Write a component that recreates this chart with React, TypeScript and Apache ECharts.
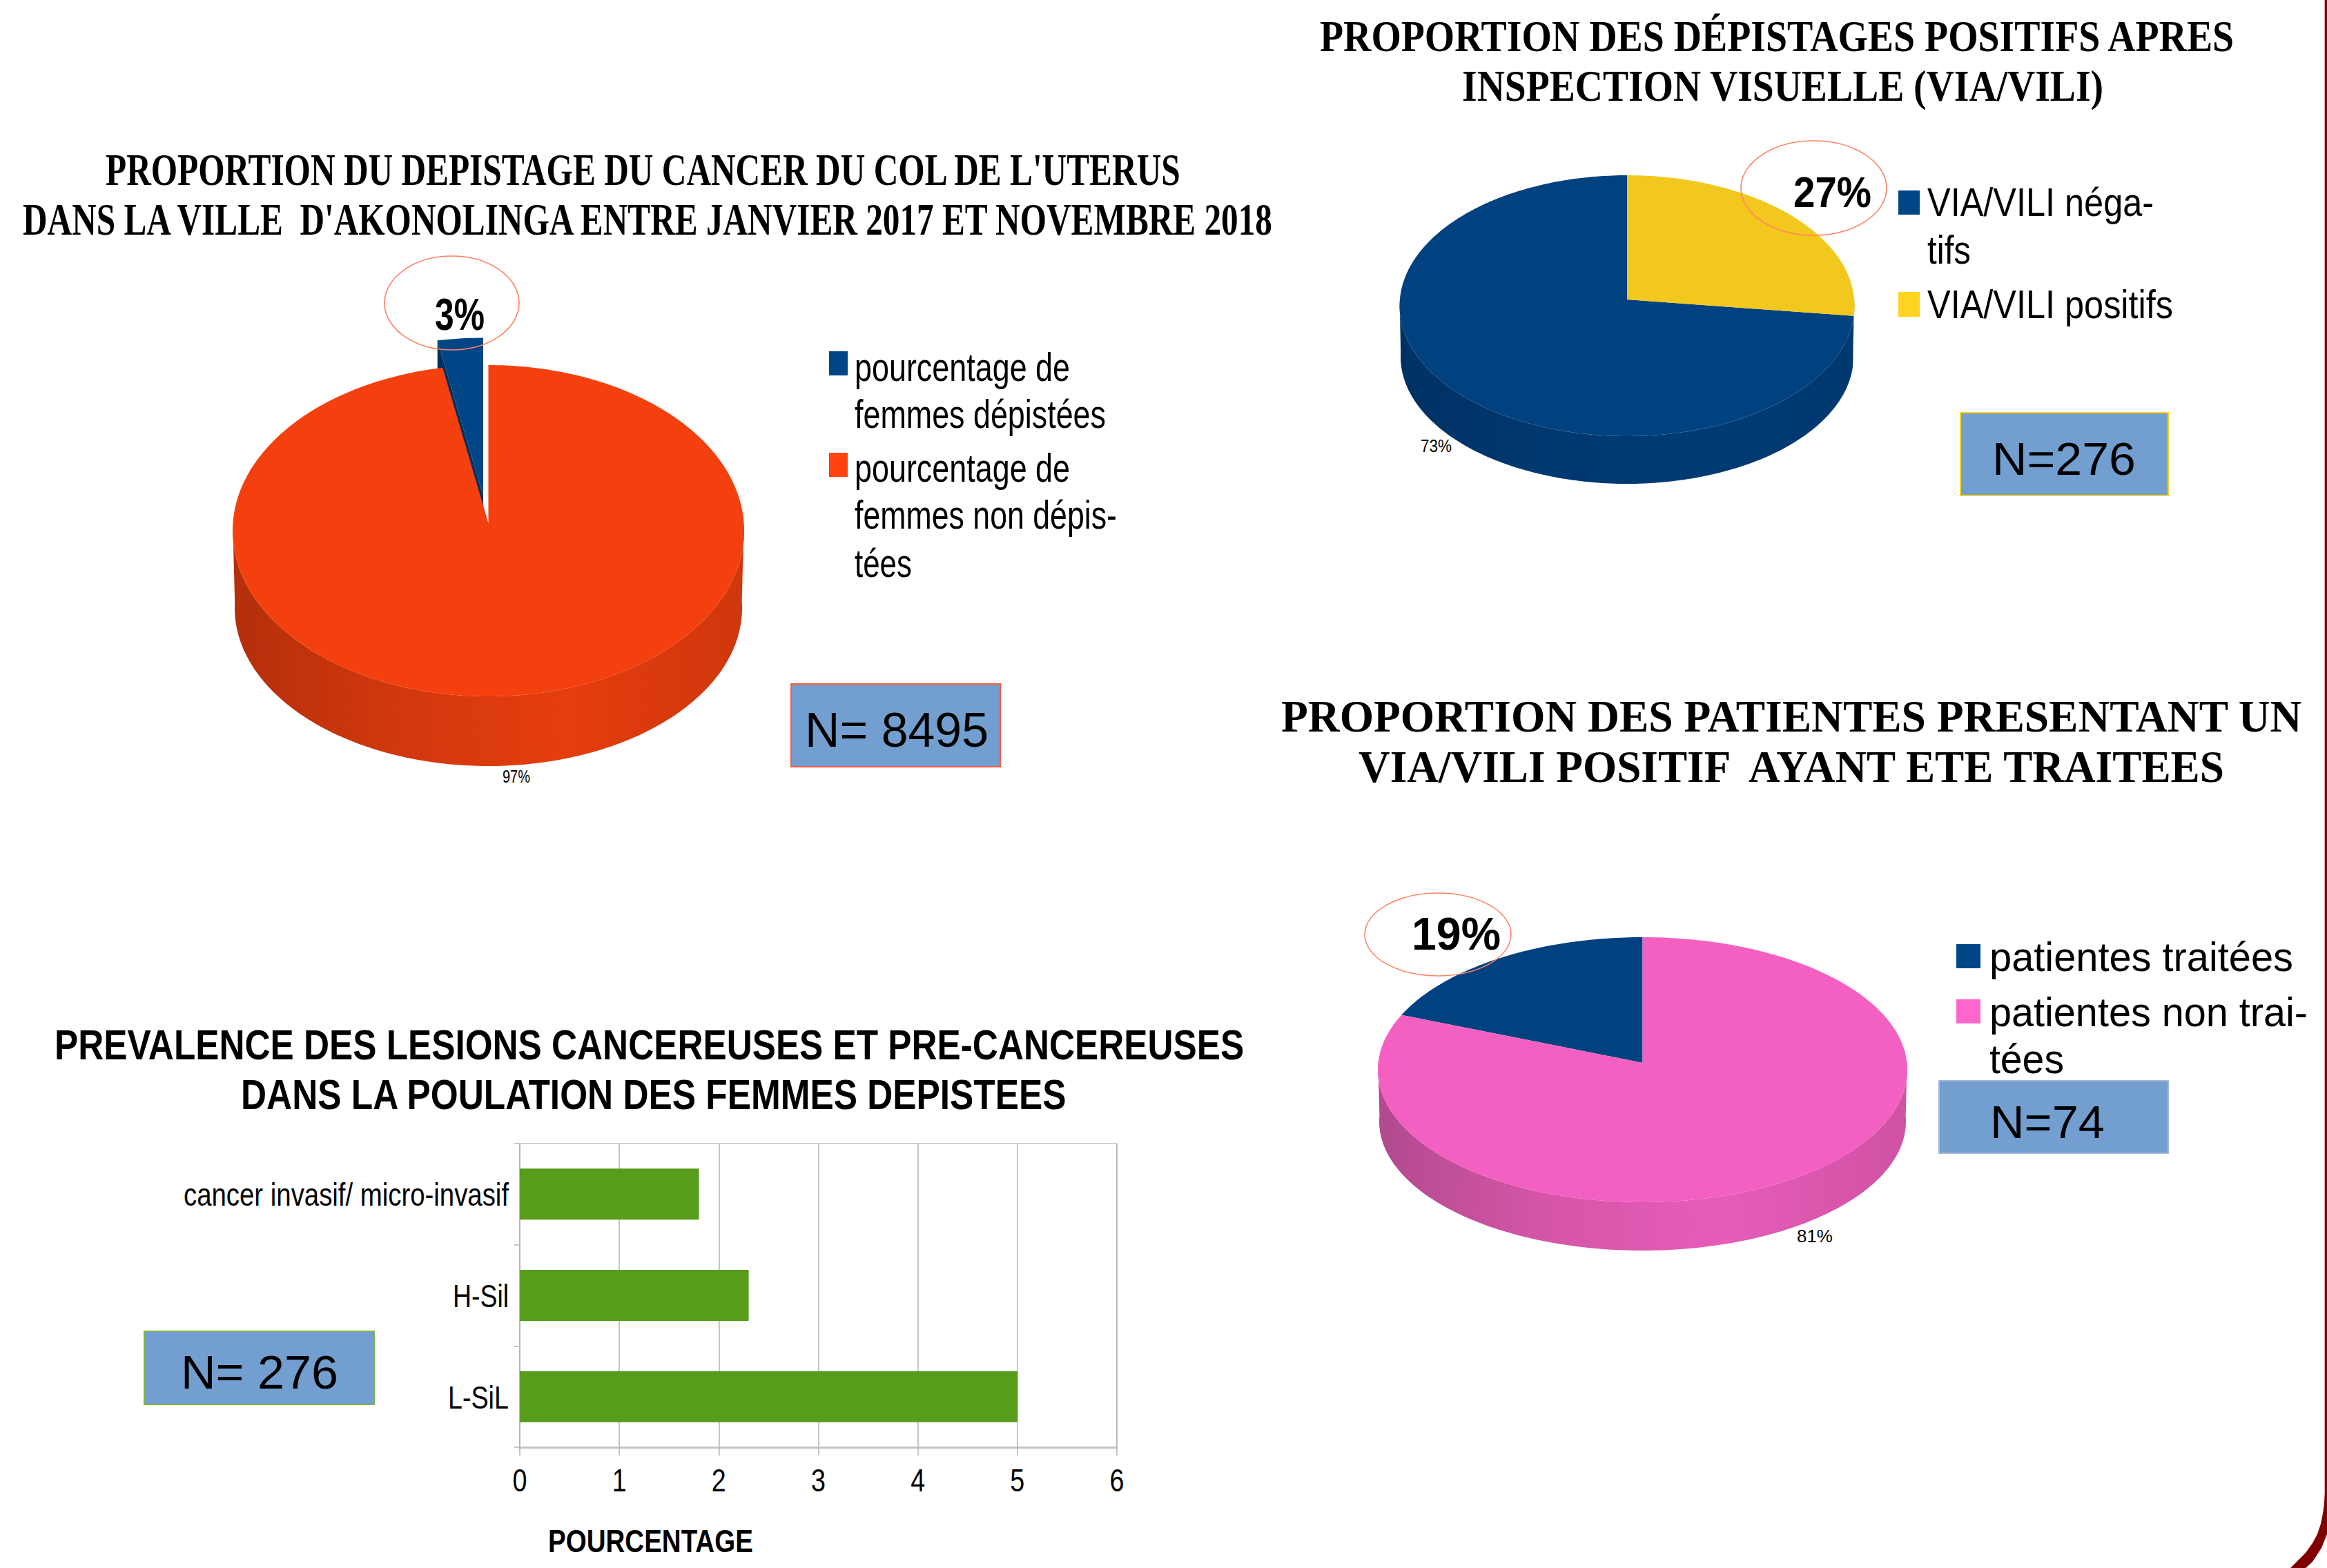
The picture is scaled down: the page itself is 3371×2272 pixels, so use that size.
import React, { useEffect, useRef } from "react";
import * as echarts from "echarts";

const SERIF = "Liberation Serif";
const SANS = "Liberation Sans";

// ---- data ----
const pie1Values = [3, 97];
const pie2Values = [73, 27];
const pie3Values = [19, 81];

const pie1Legend = [["pourcentage de", "femmes dépistées"], ["pourcentage de", "femmes non dépis-", "tées"]];
const pie2Legend = [["VIA/VILI néga-", "tifs"], ["VIA/VILI positifs"]];
const pie3Legend = [["patientes traitées"], ["patientes non trai-", "tées"]];

const barCategories = ["L-SiL", "H-Sil", "cancer invasif/ micro-invasif"];
const barValues = [5, 2.3, 1.8];
const barTicks = [0, 1, 2, 3, 4, 5, 6];

const title1 = ["PROPORTION DU DEPISTAGE DU CANCER DU COL DE L'UTERUS", "DANS LA VILLE  D'AKONOLINGA ENTRE JANVIER 2017 ET NOVEMBRE 2018"];
const title2 = ["PROPORTION DES DÉPISTAGES POSITIFS APRES", "INSPECTION VISUELLE (VIA/VILI)"];
const title3 = ["PROPORTION DES PATIENTES PRESENTANT UN", "VIA/VILI POSITIF  AYANT ETE TRAITEES"];
const title4 = ["PREVALENCE DES LESIONS CANCEREUSES ET PRE-CANCEREUSES", "DANS LA POULATION DES FEMMES DEPISTEES"];
const boxLabels = ["N= 8495", "N=276", "N=74", "N= 276"];
const axisName = "POURCENTAGE";

// ---- helpers ----
const ctx = document.createElement("canvas").getContext("2d") as CanvasRenderingContext2D;

function txt(text: string, x: number, baseline: number, family: string, size: number, weight: string, width?: number, align = "left", factor = 1) {
  ctx.font = `${weight} ${size}px "${family}"`;
  const natural = ctx.measureText(text).width || 1;
  return {
    type: "text",
    x,
    y: baseline - 0.32 * size,
    scaleX: width ? width / natural : factor,
    z: 30,
    style: { text, fontFamily: family, fontSize: size, fontWeight: weight, fill: "#000", align, verticalAlign: "middle" },
  };
}

function box(x0: number, y0: number, x1: number, y1: number, stroke: string) {
  return { type: "rect", z: 20, shape: { x: x0, y: y0, width: x1 - x0, height: y1 - y0 }, style: { fill: "#729FCF", stroke, lineWidth: 2 } };
}

function callout(x0: number, y0: number, x1: number, y1: number) {
  return {
    type: "ellipse",
    z: 25,
    shape: { cx: (x0 + x1) / 2, cy: (y0 + y1) / 2, rx: (x1 - x0) / 2, ry: (y1 - y0) / 2 },
    style: { fill: "rgba(0,0,0,0)", stroke: "#FF8263", lineWidth: 1.6 },
  };
}

function swatch(x0: number, y0: number, x1: number, y1: number, fill: string) {
  return { type: "rect", z: 20, shape: { x: x0, y: y0, width: x1 - x0, height: y1 - y0 }, style: { fill } };
}

const rad = (d: number) => (d * Math.PI) / 180;

type PieGeo = {
  cx: number; cy: number; rx: number; ry: number; apexY: number;
  botCy: number; botRx: number; botRy: number;
  faces: string[];
  walls: [string, string, string, string][];
  cut?: string[];
  explode?: [number, number][];
};

// point of an ellipse seen along the given slice angle from the (perspective-shifted) apex
function onEllipse(a: number, cx: number, cy: number, rx: number, ry: number, apexOffset: number): [number, number] {
  const da = -Math.sin(rad(a));
  const db = -Math.cos(rad(a));
  const e = apexOffset / ry;
  const q = da * da + db * db;
  const t = (-db * e + Math.sqrt(db * db * e * e + q * (1 - e * e))) / q;
  return [cx + rx * t * da, cy + ry * (t * db + e)];
}

function pieSeries(values: number[], geo: PieGeo) {
  const total = values.reduce((a, b) => a + b, 0);
  return {
    type: "custom",
    coordinateSystem: "none",
    silent: true,
    z: 2,
    data: values.map((v) => [v]),
    renderItem(params: any, api: any) {
      const i = params.dataIndex;
      const prev = values.slice(0, i).reduce((a, b) => a + b, 0);
      const val = api.value(0);
      // slices run counter-clockwise from twelve o'clock
      const a0 = (prev / total) * 360;
      const a1 = ((prev + val) / total) * 360;
      const [dx, dy] = geo.explode?.[i] ?? [0, 0];
      const off = geo.apexY - geo.cy;
      const rim = (a: number) => onEllipse(a, geo.cx + dx, geo.cy + dy, geo.rx, geo.ry, off);
      const low = (a: number) => onEllipse(a, geo.cx + dx, geo.botCy + dy, geo.botRx, geo.botRy, off);
      const steps: number[] = [];
      for (let a = a0; a < a1; a += 1) steps.push(a);
      steps.push(a1);
      const apex: [number, number] = [geo.cx + dx, geo.apexY + dy];
      const children: any[] = [];
      const front = steps.filter((a) => Math.cos(rad(a)) < 0);
      if (front.length > 1) {
        const [c0, c1, c2, c3] = geo.walls[i];
        children.push({
          type: "polygon",
          shape: { points: [...front.map(rim), ...front.slice().reverse().map(low)] },
          style: {
            fill: new echarts.graphic.LinearGradient(0, 0, 1, 0, [
              { offset: 0, color: c0 },
              { offset: 0.3, color: c1 },
              { offset: 0.65, color: c2 },
              { offset: 1, color: c3 },
            ]),
          },
        });
      }
      if (geo.cut?.[i]) {
        const e = rim(a1);
        const h = geo.botCy - geo.cy;
        children.push({
          type: "polygon",
          shape: { points: [apex, e, [e[0], e[1] + h], [apex[0], apex[1] + h]] },
          style: { fill: geo.cut[i] },
        });
      }
      children.push({
        type: "polygon",
        shape: { points: [apex, ...steps.map(rim)] },
        style: { fill: geo.faces[i] },
      });
      return { type: "group", children };
    },
  };
}

function legendText(blocks: string[][], x: number, baselines: number[][], family: string, size: number, widths: number[][]) {
  const out: any[] = [];
  blocks.forEach((lines, b) =>
    lines.forEach((l, j) => out.push(txt(l, x, baselines[b][j], family, size, "normal", widths[b][j])))
  );
  return out;
}

export default function App() {
  const ref = useRef<HTMLDivElement>(null);
  useEffect(() => {
    const chart = echarts.init(ref.current!, undefined, { renderer: "svg" });
    const graphic: any[] = [
      ...[0, 1].map((i) => txt(title1[i], [153, 33][i], [267, 339][i], SERIF, 65, "bold", [1560, 1818][i])),
      ...[0, 1].map((i) => txt(title2[i], [1912, 2118][i], [73, 145][i], SERIF, 63, "bold", [1328, 930][i])),
      ...[0, 1].map((i) => txt(title3[i], [1856, 1968][i], [1059, 1132][i], SERIF, 65, "bold", [1480, 1262][i])),
      ...[0, 1].map((i) => txt(title4[i], [79, 349][i], [1533, 1605][i], SANS, 61, "bold", [1724, 1198][i])),

      callout(557, 371, 752, 507),
      callout(2522, 204, 2733, 341),
      callout(1977, 1294, 2189, 1414),

      txt(`${pie1Values[0]}%`, 630, 476, SANS, 64, "bold", 72),
      txt(`${pie2Values[1]}%`, 2598, 298, SANS, 62, "bold", 113),
      txt(`${pie3Values[0]}%`, 2045, 1374, SANS, 66, "bold", 129),
      txt(`${pie1Values[1]}%`, 728, 1133, SANS, 26, "normal", 40),
      txt(`${pie2Values[0]}%`, 2058, 654, SANS, 26, "normal", 45),
      txt(`${pie3Values[1]}%`, 2603, 1799, SANS, 26, "normal", 52),

      swatch(1201, 509, 1228, 544, "#004586"),
      swatch(1201, 656, 1228, 691, "#FF420E"),
      ...legendText(pie1Legend, 1238, [[551, 619], [697, 765, 835]], SANS, 57, [[312, 364], [312, 380, 83]]),
      swatch(2750, 276, 2781, 311, "#004586"),
      swatch(2750, 423, 2781, 459, "#FFD320"),
      ...legendText(pie2Legend, 2792, [[311, 380], [459]], SANS, 57, [[328, 63], [356]]),
      swatch(2834, 1368, 2869, 1403, "#004586"),
      swatch(2834, 1448, 2869, 1483, "#FF66CC"),
      ...legendText(pie3Legend, 2882, [[1405], [1485, 1553]], SANS, 60, [[440], [461, 108]]),

      box(1146, 991, 1449, 1111, "#FF5A3C"),
      txt(boxLabels[0], 1166, 1080, SANS, 70, "normal", 266),
      box(2840, 598, 3141, 718, "#FFD320"),
      txt(boxLabels[1], 2886, 686, SANS, 66, "normal", 208),
      box(2809, 1566, 3141, 1671, "#A8B8D8"),
      txt(boxLabels[2], 2883, 1647, SANS, 66, "normal", 166),
      box(209, 1929, 542, 2035, "#7FB24A"),
      txt(boxLabels[3], 262, 2010, SANS, 68, "normal", 228),

      txt(axisName, 794, 2248, SANS, 46, "bold", 297),

      {
        type: "polygon",
        z: 40,
        shape: {
          points: [
            [3367.7, 0], [3371, 0], [3371, 2223], [3363, 2243], [3350, 2263], [3340, 2272], [3318, 2272],
            [3340, 2250], [3350, 2236], [3357, 2223], [3362, 2208], [3365, 2193], [3367, 2178], [3367.7, 2163],
          ],
        },
        style: { fill: "#800000" },
      },
    ];

    chart.setOption({
      animation: false,
      backgroundColor: "#fff",
      grid: { left: 753, top: 1657, width: 865, height: 440, show: true, borderColor: "#C4C4C4", borderWidth: 1.5, containLabel: false },
      xAxis: {
        type: "value",
        min: barTicks[0],
        max: barTicks[barTicks.length - 1],
        interval: 1,
        axisLine: { show: true, lineStyle: { color: "#C4C4C4", width: 3 } },
        axisTick: { show: true, length: 12, lineStyle: { color: "#B3B3B3", width: 1.5 } },
        splitLine: { show: true, lineStyle: { color: "#B3B3B3", width: 1.5 } },
        axisLabel: { show: false },
      },
      yAxis: {
        type: "category",
        data: barCategories,
        axisLine: { show: true, lineStyle: { color: "#B3B3B3", width: 1.5 } },
        axisTick: { show: true, length: 8, lineStyle: { color: "#C4C4C4", width: 2 } },
        splitLine: { show: false },
        axisLabel: { show: false },
      },
      series: [
        { type: "bar", data: barValues, barWidth: 74, itemStyle: { color: "#589C1C" }, silent: true, z: 3 },
        pieSeries(pie1Values, {
          cx: 707.5, cy: 769, rx: 370.5, ry: 240, apexY: 758,
          botCy: 881, botRx: 367.5, botRy: 229,
          faces: ["#004586", "#F4400E"],
          walls: [["#003466", "#003466", "#003466", "#003466"], ["#B32F0B", "#D0380D", "#E53D0E", "#D0370C"]],
          cut: ["#02305E", ""],
          explode: [[-7.5, -39.5], [0, 0]],
        }),
        pieSeries(pie2Values, {
          cx: 2357, cy: 443, rx: 329.5, ry: 189, apexY: 434,
          botCy: 517, botRx: 328, botRy: 184,
          faces: ["#00427F", "#F2C81E"],
          walls: [["#003163", "#003870", "#003B74", "#003870"], ["#C9A518", "#C9A518", "#C9A518", "#C9A518"]],
        }),
        pieSeries(pie3Values, {
          cx: 2379.5, cy: 1550, rx: 383.5, ry: 192, apexY: 1540,
          botCy: 1625, botRx: 381.5, botRy: 187,
          faces: ["#00427F", "#F460C2"],
          walls: [["#003163", "#003870", "#003B74", "#003870"], ["#B14A8E", "#D455A8", "#E65CB8", "#D052A4"]],
        }),
      ],
    });

    // axis labels placed through the chart's own scales (the reference's glyphs are condensed)
    const catLabelWidths = [88, 81, 471];
    const tickLabels = barTicks.map((t) =>
      txt(String(t), chart.convertToPixel({ xAxisIndex: 0 }, t) as number, 2160, SANS, 46, "normal", undefined, "center", 0.82)
    );
    const catLabels = barCategories.map((c, i) =>
      txt(c, 737 - catLabelWidths[i], (chart.convertToPixel({ yAxisIndex: 0 }, c) as number) + 16, SANS, 46, "normal", catLabelWidths[i])
    );
    chart.setOption({ graphic: [...graphic, ...tickLabels, ...catLabels] });
    return () => chart.dispose();
  }, []);
  return <div ref={ref} style={{ position: "fixed", left: 0, top: 0, width: 3371, height: 2272 }} />;
}
